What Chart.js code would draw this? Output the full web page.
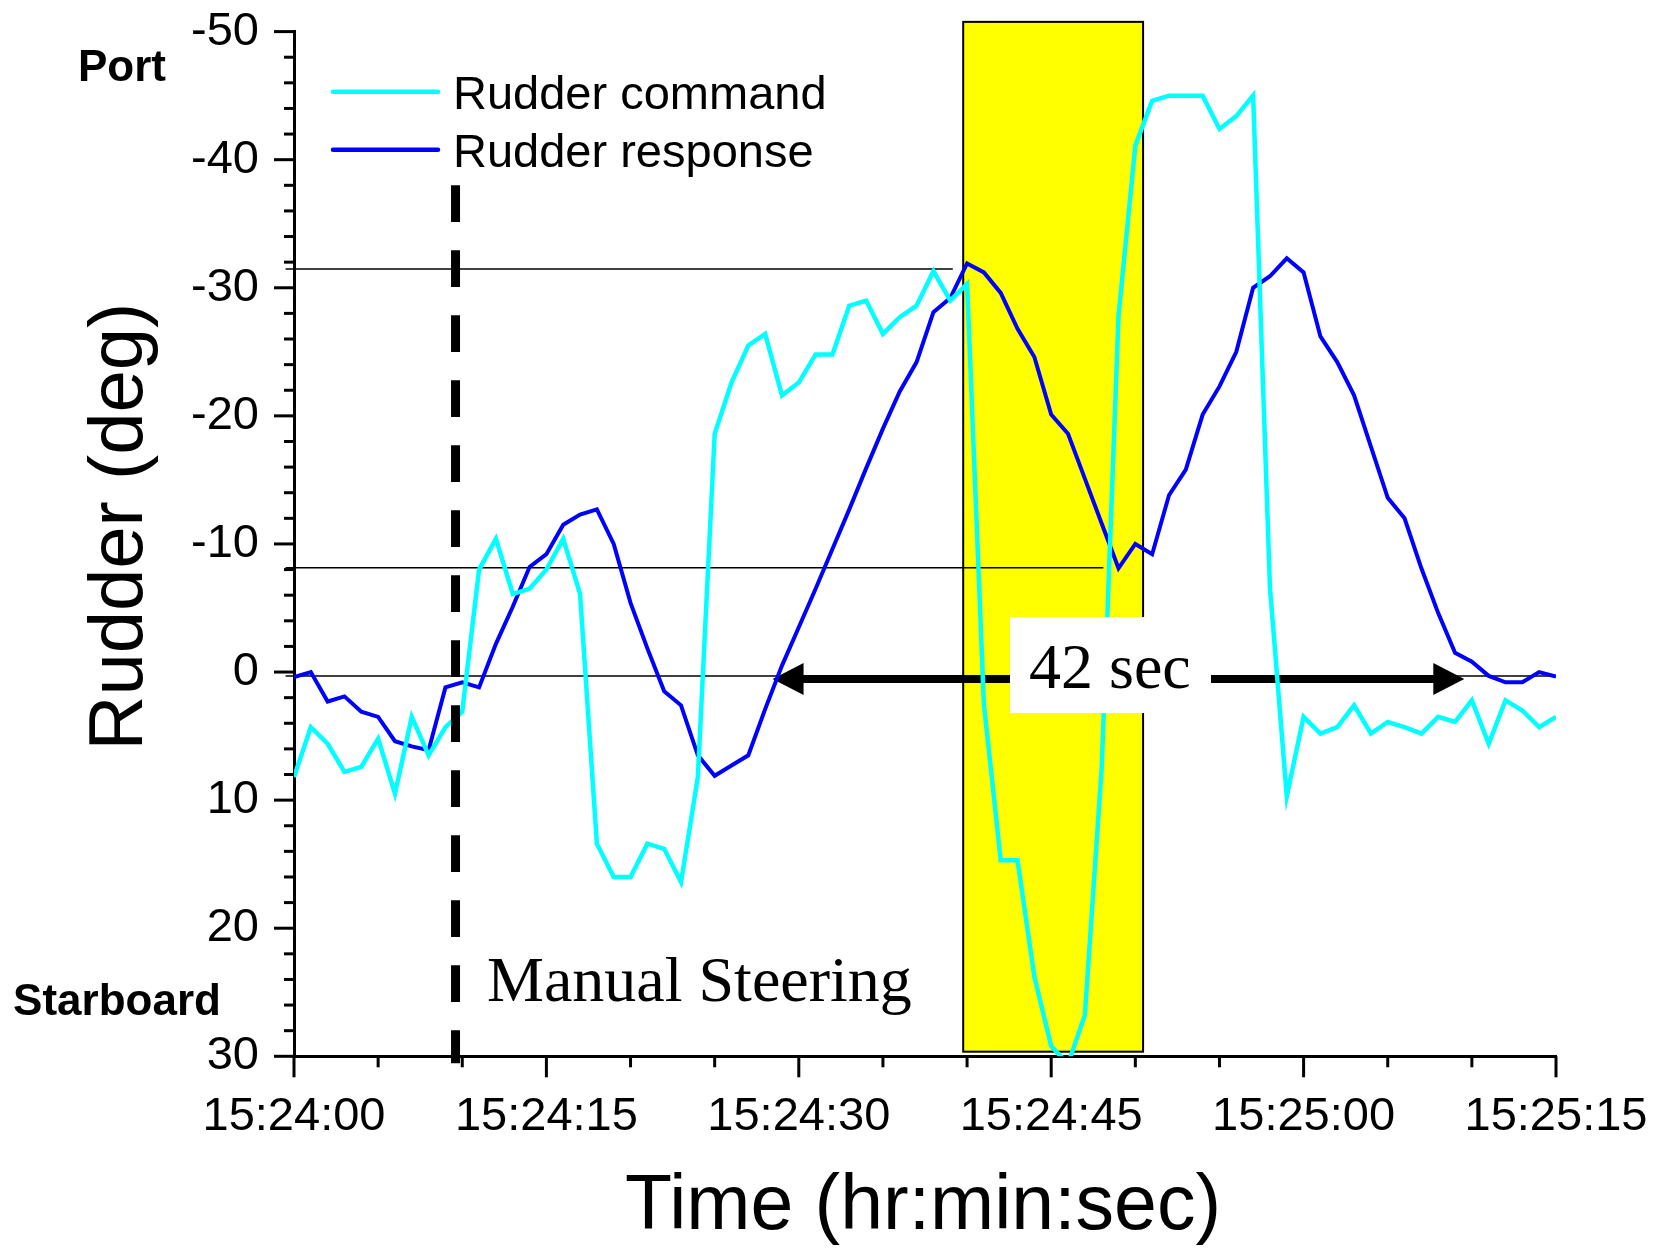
<!DOCTYPE html>
<html><head><meta charset="utf-8">
<script src="https://cdn.jsdelivr.net/npm/chart.js@4.4.0/dist/chart.umd.min.js"></script>
<style>html,body{margin:0;padding:0;background:#fff;}#wrap{width:1653px;height:1250px;}</style>
</head><body><div id="wrap"><canvas id="c" width="1653" height="1250"></canvas></div>
<script>
// ---- data ----
const seconds = [0,1,2,3,4,5,6,7,8,9,10,11,12,13,14,15,16,17,18,19,20,21,22,23,24,25,26,27,28,29,30,31,32,33,34,35,36,37,38,39,40,41,42,43,44,45,46,47,48,49,50,51,52,53,54,55,56,57,58,59,60,61,62,63,64,65,66,67,68,69,70,71,72,73,74,75];
const rudderCommand = [8.2,4.3,5.6,7.8,7.4,5.2,9.5,3.5,6.5,4.3,3.1,-8.0,-10.4,-6.1,-6.5,-8.0,-10.4,-6.1,13.4,16.0,16.0,13.4,13.8,16.4,8.2,-18.6,-22.6,-25.5,-26.4,-21.6,-22.6,-24.8,-24.8,-28.6,-29.0,-26.4,-27.7,-28.6,-31.3,-29.0,-30.3,2.5,14.7,14.7,23.8,29.2,30.6,26.8,7.5,-27.8,-41.1,-44.6,-45.0,-45.0,-45.0,-42.4,-43.4,-45.0,-6.6,9.7,3.5,4.8,4.3,2.6,4.8,3.9,4.3,4.8,3.5,3.9,2.2,5.6,2.2,3.0,4.3,3.5];
const rudderResponse = [0.4,0.0,2.3,1.9,3.1,3.5,5.4,5.8,6.1,1.2,0.8,1.2,-2.2,-5.1,-8.2,-9.2,-11.5,-12.3,-12.7,-10.0,-5.4,-1.85,1.5,2.6,6.5,8.1,7.3,6.5,2.9,-0.5,-3.5,-6.5,-9.6,-12.7,-15.9,-19.0,-21.9,-24.2,-28.1,-29.2,-31.9,-31.2,-29.6,-26.8,-24.6,-20.1,-18.6,-15.1,-11.6,-8.1,-10.0,-9.2,-13.8,-15.8,-20.1,-22.3,-25.0,-30.0,-30.9,-32.3,-31.2,-26.2,-24.2,-21.6,-17.6,-13.6,-12.0,-8.1,-4.6,-1.5,-0.8,0.3,0.8,0.8,0.0,0.35];
const seriesNames = ['Rudder command','Rudder response'];
const xTickLabels = ['15:24:00','15:24:15','15:24:30','15:24:45','15:25:00','15:25:15'];
const yTickValues = [-50,-40,-30,-20,-10,0,10,20,30];

// ---- annotations (data coordinates) ----
const highlightSpan = {x0:39.77, x1:50.46, y0:-50.76, y1:29.64};
const refLines = [{y:-31.46, x0:-0.5, x1:39.15},{y:-8.14, x0:-0.5, x1:48.1},{y:0.31, x0:-0.5, x1:75}];
const steeringStart = {x:9.6, y0:-38.0, y1:30.55};
const periodArrow = {y:0.55, x0:28.44, x1:69.55, label:'42 sec'};

// target plot-area box on the page
const AREA = {left:294, top:31.6, right:1556, bottom:1056.3};
const layoutPadding = {left:0, top:31.6, right:97, bottom:0};

const SANS = '"Liberation Sans", Arial, sans-serif';
const SERIF = '"Liberation Serif", "Times New Roman", serif';
Chart.defaults.font.family = SANS;
Chart.defaults.color = '#000';

const decor = {
  id:'decor',
  beforeDatasetsDraw(chart){
    const {ctx, scales:{x,y}} = chart;
    ctx.save();
    const rx0=x.getPixelForValue(highlightSpan.x0), rx1=x.getPixelForValue(highlightSpan.x1);
    const ry0=y.getPixelForValue(highlightSpan.y0), ry1=y.getPixelForValue(highlightSpan.y1);
    ctx.fillStyle='#ffff00';
    ctx.fillRect(rx0,ry0,rx1-rx0,ry1-ry0);
    ctx.strokeStyle='#000'; ctx.lineWidth=2;
    ctx.strokeRect(rx0,ry0,rx1-rx0,ry1-ry0);
    ctx.lineWidth=1.5;
    refLines.forEach(l=>{
      const yy=y.getPixelForValue(l.y);
      ctx.beginPath(); ctx.moveTo(x.getPixelForValue(l.x0),yy); ctx.lineTo(x.getPixelForValue(l.x1),yy); ctx.stroke();
    });
    const ay=y.getPixelForValue(periodArrow.y);
    const ax0=x.getPixelForValue(periodArrow.x0), ax1=x.getPixelForValue(periodArrow.x1);
    const hl=31, hw=16;
    ctx.lineWidth=8; ctx.lineCap='butt';
    ctx.beginPath(); ctx.moveTo(ax0+hl-2,ay); ctx.lineTo(ax1-hl+2,ay); ctx.stroke();
    ctx.fillStyle='#000';
    ctx.beginPath(); ctx.moveTo(ax0,ay); ctx.lineTo(ax0+hl,ay-hw); ctx.lineTo(ax0+hl,ay+hw); ctx.closePath(); ctx.fill();
    ctx.beginPath(); ctx.moveTo(ax1,ay); ctx.lineTo(ax1-hl,ay-hw); ctx.lineTo(ax1-hl,ay+hw); ctx.closePath(); ctx.fill();
    ctx.restore();
  },
  afterDatasetsDraw(chart){
    const {ctx, scales:{x,y}, chartArea:ca} = chart;
    ctx.save();
    const ay=y.getPixelForValue(periodArrow.y);
    ctx.fillStyle='#fff';
    ctx.fillRect(1010, ay-62, 201, 96);
    ctx.fillStyle='#000';
    ctx.font='64px '+SERIF; ctx.textAlign='left'; ctx.textBaseline='alphabetic';
    ctx.fillText(periodArrow.label, 1029, ay+9);
    const dx=x.getPixelForValue(steeringStart.x);
    ctx.strokeStyle='#000'; ctx.lineWidth=9; ctx.setLineDash([36.7,28.3]);
    ctx.beginPath(); ctx.moveTo(dx,y.getPixelForValue(steeringStart.y0)); ctx.lineTo(dx,y.getPixelForValue(steeringStart.y1)); ctx.stroke();
    ctx.setLineDash([]);
    ctx.font='64px '+SERIF;
    ctx.fillText('Manual Steering', 487, 1001);
    ctx.lineWidth=3; ctx.strokeStyle='#000';
    y.ticks.forEach((t,i)=>{
      const yy=y.getPixelForTick(i); const len=(t.value%10===0)?20:10;
      ctx.beginPath(); ctx.moveTo(ca.left-len,yy); ctx.lineTo(ca.left,yy); ctx.stroke();
    });
    x.ticks.forEach((t,i)=>{
      const xx=x.getPixelForTick(i); const len=(t.value%15===0)?21:11;
      ctx.beginPath(); ctx.moveTo(xx,ca.bottom); ctx.lineTo(xx,ca.bottom+len); ctx.stroke();
    });
    chart.data.datasets.forEach((ds,i)=>{
      const ly=91.7+58*i;
      ctx.strokeStyle=ds.borderColor; ctx.lineWidth=4.5; ctx.lineCap='round';
      ctx.beginPath(); ctx.moveTo(333,ly); ctx.lineTo(438,ly); ctx.stroke();
      ctx.fillStyle='#000'; ctx.font='47px '+SANS; ctx.textAlign='left'; ctx.textBaseline='alphabetic';
      ctx.fillText(ds.label, 453, ly+17.5);
    });
    ctx.font='bold 44px '+SANS; ctx.textAlign='center';
    ctx.fillText('Port', 122, 81);
    ctx.fillText('Starboard', 117, 1015);
    ctx.font='76px '+SANS;
    ctx.save(); ctx.translate(141.7,526.5); ctx.rotate(-Math.PI/2);
    ctx.fillText('Rudder (deg)',0,0); ctx.restore();
    ctx.font='77px '+SANS;
    ctx.fillText('Time (hr:min:sec)', 923, 1229);
    ctx.restore();
  }
};

const chart = new Chart(document.getElementById('c'), {
  type:'line',
  data:{
    datasets:[
      {label:seriesNames[0], data:seconds.map((s,i)=>({x:s,y:rudderCommand[i]})), borderColor:'#00ffff', borderWidth:4.5, pointRadius:0, tension:0, fill:false},
      {label:seriesNames[1], data:seconds.map((s,i)=>({x:s,y:rudderResponse[i]})), borderColor:'#0000ff', borderWidth:4, pointRadius:0, tension:0, fill:false}
    ]
  },
  options:{
    responsive:false, animation:false, devicePixelRatio:1,
    layout:{padding:layoutPadding},
    plugins:{legend:{display:false}, tooltip:{enabled:false}},
    scales:{
      x:{type:'linear', min:0, max:75,
         grid:{display:true, drawOnChartArea:false, drawTicks:true, tickLength:21, tickColor:'rgba(0,0,0,0)'},
         border:{display:true, color:'#000', width:3},
         ticks:{stepSize:5, autoSkip:false, maxRotation:0, padding:12, color:'#000', font:{size:47},
                callback:(v)=> (v%15===0 ? xTickLabels[v/15] : '')},
         afterFit:(s)=>{s.height=1250 - AREA.bottom; s.paddingLeft=0; s.paddingRight=0; s.paddingTop=0; s.paddingBottom=0;}
      },
      y:{type:'linear', min:-50, max:30, reverse:true,
         grid:{display:true, drawOnChartArea:false, drawTicks:true, tickLength:20, tickColor:'rgba(0,0,0,0)'},
         border:{display:true, color:'#000', width:3},
         ticks:{stepSize:2, autoSkip:false, padding:15, color:'#000', font:{size:47},
                callback:(v)=> (yTickValues.includes(v) ? String(v) : '')},
         afterFit:(s)=>{s.width=AREA.left; s.paddingLeft=0; s.paddingRight=0; s.paddingTop=0; s.paddingBottom=0;}
      }
    }
  },
  plugins:[decor]
});
</script></body></html>
